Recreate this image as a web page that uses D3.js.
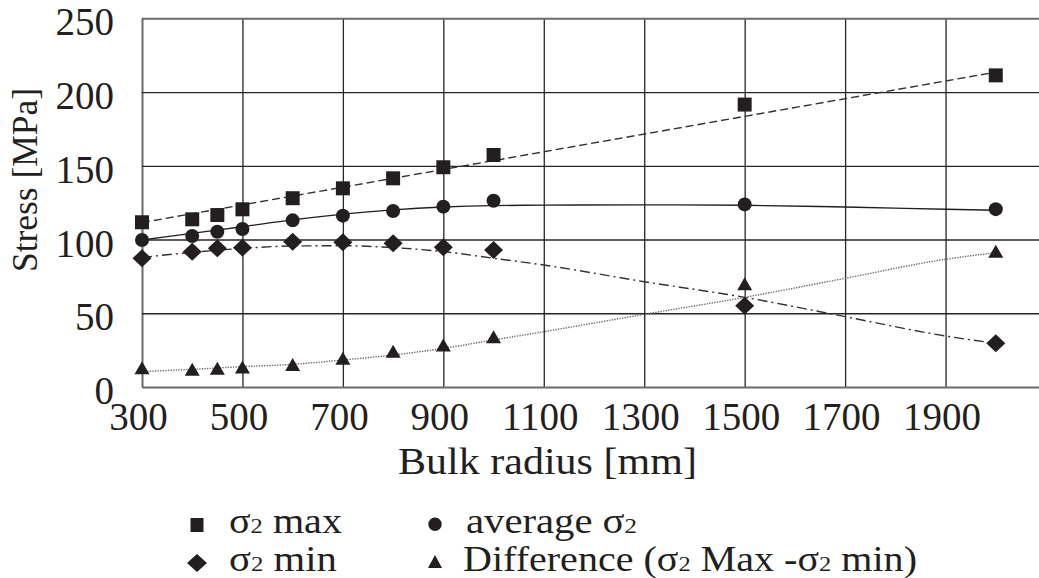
<!DOCTYPE html>
<html>
<head>
<meta charset="utf-8">
<script src="https://cdn.jsdelivr.net/npm/d3@7"></script>
<style>
  html, body { margin: 0; padding: 0; background: #fff; }
  svg { display: block; font-family: "Liberation Serif", "Times New Roman", serif; }
</style>
</head>
<body>
<svg id="chart" width="1039" height="578"></svg>
<script>
// Bulk radius [mm] of each computed case
const radius = [300, 400, 450, 500, 600, 700, 800, 900, 1000, 1500, 2000];
// Stress values [MPa]
const sigmaMax  = [111.7, 113.7, 116.6, 120.5, 128.0, 134.7, 141.5, 149.0, 157.3, 191.5, 211.3];
const sigmaAvg  = [99.7, 102.4, 105.3, 107.1, 113.0, 116.2, 119.3, 122.3, 126.3, 123.8, 120.6];
const sigmaMin  = [87.3, 91.7, 94.0, 94.5, 98.5, 98.1, 97.4, 94.7, 92.9, 55.1, 29.6];
const sigmaDiff = [12.7, 11.7, 12.3, 13.3, 15.0, 19.1, 23.9, 28.1, 33.7, 69.7, 91.7];

// Trend lines (radius, stress)
const maxTrendX = [300, 2000];
const maxTrend  = [111.5, 213.5];
const trendX    = [300, 400, 500, 600, 700, 800, 900, 1000, 1100, 1300, 1500, 1700, 1900, 2000];
const avgTrend  = [99.7, 104.2, 108.7, 113.3, 117.2, 120.1, 122.0, 123.0, 123.3, 123.5, 123.2, 122.0, 120.5, 119.8];
const minTrend  = [87.9, 91.3, 94.0, 95.6, 95.8, 94.5, 91.8, 87.3, 82.7, 71.4, 60.8, 47.7, 34.6, 29.6];
const diffTrend = [10.4, 12.0, 13.8, 15.4, 18.3, 21.7, 26.2, 31.9, 37.5, 49.3, 60.8, 73.7, 86.6, 91.1];

// Axis ticks and labels
const xTicks = [300, 500, 700, 900, 1100, 1300, 1500, 1700, 1900];
const yTicks = [0, 50, 100, 150, 200, 250];
const xTitle = "Bulk radius [mm]";
const yTitle = "Stress [MPa]";

const INK = "#231f20";
const svg = d3.select("#chart");

const x = d3.scaleLinear().domain([300, 2100]).range([142, 1046]);
const y = d3.scaleLinear().domain([0, 250]).range([387, 18.3]);
const [plotL, plotR] = x.range();
const [plotB, plotT] = y.range();

// ---- grid + tick labels via axes ----
const gx = svg.append("g")
  .attr("transform", `translate(0,${plotB})`)
  .call(d3.axisBottom(x).tickValues(xTicks).tickSizeInner(-(plotB - plotT)).tickSizeOuter(0).tickFormat(d3.format("d")));
const gy = svg.append("g")
  .attr("transform", `translate(${plotL},0)`)
  .call(d3.axisLeft(y).tickValues(yTicks).tickSizeInner(-(plotR - plotL)).tickSizeOuter(0));

[gx, gy].forEach(g => {
  g.select(".domain").remove();
  g.selectAll(".tick line").attr("stroke", "#262626").attr("stroke-width", 1.3);
  g.selectAll(".tick text")
    .attr("fill", INK)
    .style("font-family", '"Liberation Serif", "Times New Roman", serif')
    .style("font-size", "39px");
});
gx.selectAll(".tick text").attr("y", 43).attr("dy", 0).attr("x", -4);
gy.selectAll(".tick text").attr("x", -28).attr("dy", 0).attr("y", 16.5);

// frame: top, left, bottom edges drawn in grey
gy.selectAll(".tick").filter(d => d === 250 || d === 0).select("line")
  .attr("stroke", "#6b6b6b").attr("stroke-width", 2);
gx.selectAll(".tick").filter(d => d === 300).select("line")
  .attr("stroke", "#6b6b6b").attr("stroke-width", 2);

// ---- trend lines ----
const line = d3.line().x(d => x(d[0])).y(d => y(d[1])).curve(d3.curveMonotoneX);
const lines = svg.append("g").attr("fill", "none");
lines.append("path").datum(d3.zip(maxTrendX, maxTrend)).attr("d", line)
  .attr("stroke", "#333").attr("stroke-width", 1.4).attr("stroke-dasharray", "8,4");
lines.append("path").datum(d3.zip(trendX, avgTrend)).attr("d", line)
  .attr("stroke", INK).attr("stroke-width", 1.4);
lines.append("path").datum(d3.zip(trendX, minTrend)).attr("d", line)
  .attr("stroke", "#333").attr("stroke-width", 1.4).attr("stroke-dasharray", "10,4,2,4");
lines.append("path").datum(d3.zip(trendX, diffTrend)).attr("d", line)
  .attr("stroke", "#666").attr("stroke-width", 1.4).attr("stroke-dasharray", "1.3,1.3");

// ---- markers ----
const shapes = {
  square:  (cx, cy) => `M${cx - 7},${cy - 7}h14v14h-14Z`,
  circle:  (cx, cy) => `M${cx - 7},${cy}a7,7 0 1,0 14,0a7,7 0 1,0 -14,0Z`,
  diamond: (cx, cy) => `M${cx},${cy - 9}L${cx + 9.5},${cy}L${cx},${cy + 9}L${cx - 9.5},${cy}Z`,
  triangle:(cx, cy) => `M${cx},${cy - 7}L${cx + 7.5},${cy + 6}L${cx - 7.5},${cy + 6}Z`
};
const seriesList = [
  { values: sigmaMax,  shape: "square" },
  { values: sigmaAvg,  shape: "circle" },
  { values: sigmaMin,  shape: "diamond" },
  { values: sigmaDiff, shape: "triangle" }
];
seriesList.forEach(s => {
  svg.append("g").selectAll("path")
    .data(d3.zip(radius, s.values))
    .join("path")
    .attr("d", d => shapes[s.shape](x(d[0]), y(d[1])))
    .attr("fill", INK);
});

// ---- axis titles ----
function fitWidth(sel, target, x0) {
  const w = sel.node().getBBox().width;
  const k = target / w;
  sel.attr("transform", `translate(${x0},0) scale(${k},1) translate(${-x0},0)`);
}

const xt = svg.append("text")
  .attr("x", 398).attr("y", 474)
  .attr("fill", INK).style("font-size", "38px")
  .text(xTitle);
fitWidth(xt, 299, 398);

const yg = svg.append("g").attr("transform", "translate(37,180) rotate(-90)");
const yt = yg.append("text")
  .attr("x", 0).attr("y", 0).attr("text-anchor", "middle")
  .attr("fill", INK).style("font-size", "36px")
  .text(yTitle);
fitWidth(yt, 184, 0);

// ---- legend ----
const FS = 36, SUB = 22;
const legendItems = [
  { shape: "square",   mx: 197, my: 525,   tx: 229, ty: 533, parts: [["σ", FS], ["2", SUB], [" max", FS]], w: 113 },
  { shape: "circle",   mx: 435, my: 524.3, tx: 466, ty: 533, parts: [["average ", FS], ["σ", FS], ["2", SUB]], w: 171 },
  { shape: "diamond",  mx: 197, my: 563,   tx: 229, ty: 571, parts: [["σ", FS], ["2", SUB], [" min", FS]], w: 108 },
  { shape: "triangle", mx: 435, my: 561.5, tx: 463, ty: 571, parts: [["Difference (", FS], ["σ", FS], ["2", SUB], [" Max -", FS], ["σ", FS], ["2", SUB], [" min)", FS]], w: 454 }
];
const legendShapes = {
  square:  (cx, cy) => `M${cx - 6.5},${cy - 7}h13v14h-13Z`,
  circle:  (cx, cy) => `M${cx - 6.7},${cy}a6.7,6.7 0 1,0 13.4,0a6.7,6.7 0 1,0 -13.4,0Z`,
  diamond: (cx, cy) => `M${cx},${cy - 9}L${cx + 10},${cy}L${cx},${cy + 9}L${cx - 10},${cy}Z`,
  triangle:(cx, cy) => `M${cx},${cy - 6.5}L${cx + 7},${cy + 6.5}L${cx - 7},${cy + 6.5}Z`
};
const legend = svg.append("g");
legendItems.forEach(it => {
  legend.append("path").attr("d", legendShapes[it.shape](it.mx, it.my)).attr("fill", INK);
  const t = legend.append("text").attr("x", it.tx).attr("y", it.ty).attr("fill", INK)
    .style("white-space", "pre");
  it.parts.forEach(([str, size]) => {
    t.append("tspan").style("font-size", size + "px").text(str);
  });
  fitWidth(t, it.w, it.tx);
});
</script>
</body>
</html>
